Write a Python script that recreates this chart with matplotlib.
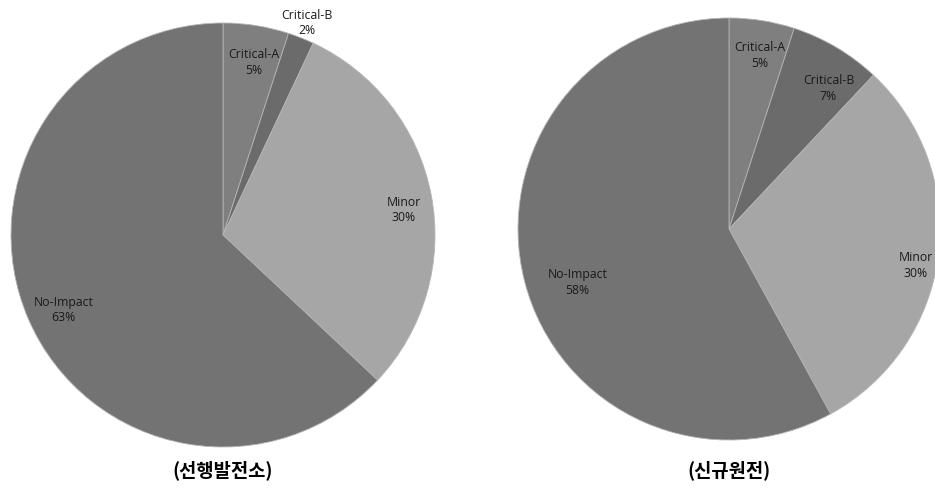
import numpy as np
import matplotlib
matplotlib.use("Agg")
from matplotlib import pyplot as plt

plt.rcParams['font.family'] = ['Open Sans', 'DejaVu Sans']

categories = ['Critical-A', 'Critical-B', 'Minor', 'No-Impact']
old_plant = [5, 2, 30, 63]    # 선행발전소
new_plant = [5, 7, 30, 58]    # 신규원전
titles = ['(선행발전소)', '(신규원전)']

colors = ['#7f7f7f', '#6b6b6b', '#a6a6a6', '#737373']

# label placement: distance from centre (fraction of radius) and angle nudge (deg)
left_dist = [0.83, 1.08, 0.86, 0.83]
left_nudge = [-1, 0, -2.6, 1.4]
right_dist = [0.84, 0.82, 0.90, 0.76]
right_nudge = [-1, -4.5, -3.5, 4.8]

W, H = 935, 489
fig = plt.figure(figsize=(W / 100, H / 100), dpi=100)


def make_pie(cx, cy, r, values, dists, nudges, title):
    ax = fig.add_axes([(cx - r) / W, (H - cy - r) / H, 2 * r / W, 2 * r / H])
    wedges, _ = ax.pie(values, colors=colors, startangle=90, counterclock=False,
                       radius=1.0, wedgeprops=dict(edgecolor='#b4b4b4', linewidth=0.6))
    for w, name, v, d, n in zip(wedges, categories, values, dists, nudges):
        ang = np.deg2rad((w.theta1 + w.theta2) / 2 + n)
        ax.text(d * np.cos(ang), d * np.sin(ang), "%s\n%d%%" % (name, v),
                ha='center', va='center', fontsize=8.8, color='#1a1a1a', linespacing=1.25)
    ax.set_xlim(-1, 1)
    ax.set_ylim(-1, 1)
    ax.set_aspect('equal')
    ax.axis('off')
    fig.text(cx / W, 1 - 470 / H, title, ha='center', va='center', fontsize=13.5,
             fontweight='bold', family=['Noto Sans CJK KR', 'DejaVu Sans'])
    return ax


make_pie(223, 236, 212, old_plant, left_dist, left_nudge, titles[0])
make_pie(729, 230, 211, new_plant, right_dist, right_nudge, titles[1])

fig.savefig('out.png', dpi=100)
